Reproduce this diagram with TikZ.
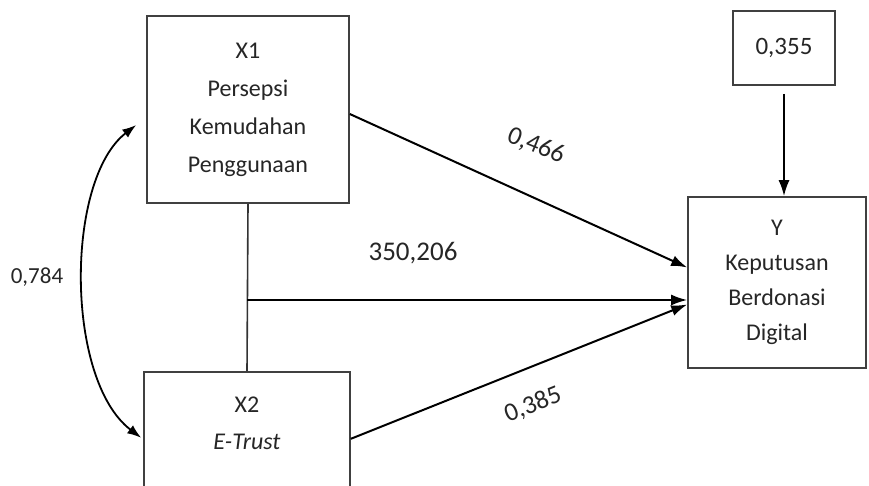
\documentclass[tikz,border=0pt]{standalone}
\usepackage{fontspec}
\setmainfont{Carlito}
\usetikzlibrary{arrows.meta,calc}
\begin{document}
\begin{tikzpicture}[x=1pt,y=-1pt,
  box/.style={draw=black!75, line width=1.6pt, fill=white, inner sep=0pt, align=center, text=black!85},
  arr/.style={line width=2pt, -{Latex[length=16pt,width=11pt]}},
  lbl/.style={text=black!85, inner sep=0pt}]
\useasboundingbox (0,0) rectangle (869,486);
\clip (0,0) rectangle (869,486);
% boxes
\node[box, minimum width=202pt, minimum height=187pt, font=\fontsize{24}{38}\selectfont] (x1) at (248,109.5) {X1\\Persepsi\\Kemudahan\\Penggunaan};
\node[box, minimum width=206pt, minimum height=160pt, anchor=north] (x2) at (247,371) {};
\node[lbl, align=center, font=\fontsize{24}{37}\selectfont] (x2t) at (247,423) {X2\\\textit{E-Trust}};
\node[box, minimum width=178pt, minimum height=171pt, font=\fontsize{24}{35}\selectfont] (y) at (777,282.5) {Y\\Keputusan\\Berdonasi\\Digital};
\node[box, minimum width=102pt, minimum height=74pt, font=\fontsize{25}{25}\selectfont] (e) at (784,48) {0,355};
% connectors
\coordinate (j) at (247,300);
\draw[line width=1.6pt, draw=black!80] (x1.south) -- (x2.north);
\draw[arr] (j) -- (j -| y.west);
\draw[arr] ([yshift=-4.5pt]x1.east) -- ([yshift=15pt]y.west);
\draw[arr] ([yshift=13pt]x2.east) -- ([yshift=-22pt]y.west);
\draw[arr, shorten <=8pt] (e.south) -- (e.south |- y.north);
\draw[line width=1.8pt, {Latex[length=14pt,width=10pt]}-{Latex[length=14pt,width=10pt]}]
  ([xshift=-10pt,yshift=-15.5pt]x1.west) .. controls (65,180) and (65,380) .. ([xshift=-2pt,yshift=14pt]x2.west);
% labels
\node[lbl, font=\fontsize{23}{23}\selectfont] (r) at (37,277) {0,784};
\node[lbl, font=\fontsize{26}{26}\selectfont, rotate=-22] (p1) at (536,146) {0,466};
\node[lbl, font=\fontsize{27}{27}\selectfont] (p3) at (413,253) {350,206};
\node[lbl, font=\fontsize{26}{26}\selectfont, rotate=22] (p2) at (533,405) {0,385};
\end{tikzpicture}
\end{document}
